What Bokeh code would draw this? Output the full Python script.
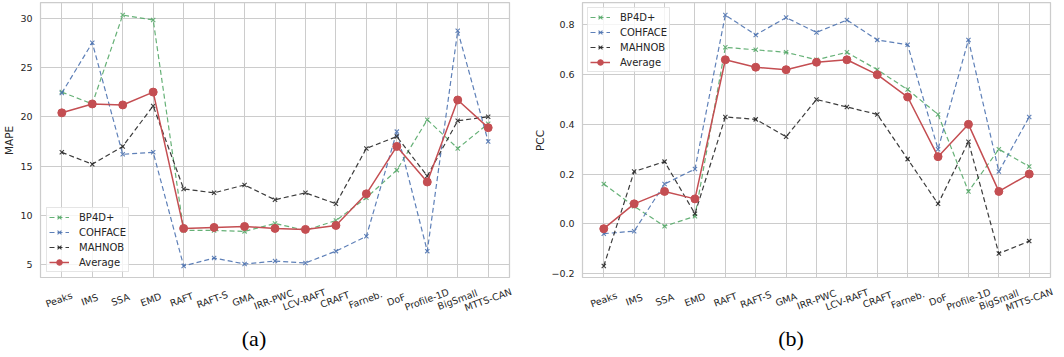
import math
from bokeh.plotting import figure
from bokeh.layouts import row, column
from bokeh.models import Range1d, FixedTicker, Grid
from bokeh.core.properties import value
from bokeh.embed import file_html
from bokeh.resources import INLINE

methods = ["Peaks", "IMS", "SSA", "EMD", "RAFT", "RAFT-S", "GMA", "IRR-PWC",
           "LCV-RAFT", "CRAFT", "Farneb.", "DoF", "Profile-1D", "BigSmall", "MTTS-CAN"]

mape_bp4d = [22.5, 21.3, 30.3, 29.8, 8.5, 8.5, 8.4, 9.2, 8.5, 9.5, 11.8, 14.6, 19.7, 16.8, 19.3]
mape_cohface = [22.4, 27.5, 16.2, 16.4, 4.9, 5.7, 5.1, 5.4, 5.2, 6.4, 7.9, 18.5, 6.4, 28.7, 17.5]
mape_mahnob = [16.4, 15.2, 17.0, 21.1, 12.7, 12.3, 13.1, 11.6, 12.3, 11.2, 16.8, 18.0, 14.0, 19.6, 20.0]
mape_avg = [20.4, 21.3, 21.2, 22.5, 8.7, 8.8, 8.9, 8.7, 8.6, 9.0, 12.2, 17.0, 13.4, 21.7, 18.9]

pcc_bp4d = [0.16, 0.07, -0.01, 0.03, 0.71, 0.70, 0.69, 0.66, 0.69, 0.62, 0.54, 0.44, 0.13, 0.30, 0.23]
pcc_cohface = [-0.04, -0.03, 0.16, 0.22, 0.84, 0.76, 0.83, 0.77, 0.82, 0.74, 0.72, 0.30, 0.74, 0.21, 0.43]
pcc_mahnob = [-0.17, 0.21, 0.25, 0.04, 0.43, 0.42, 0.35, 0.50, 0.47, 0.44, 0.26, 0.08, 0.33, -0.12, -0.07]
pcc_avg = [-0.02, 0.08, 0.13, 0.10, 0.66, 0.63, 0.62, 0.65, 0.66, 0.60, 0.51, 0.27, 0.40, 0.13, 0.20]

mape_ticks = [5, 10, 15, 20, 25, 30]
mape_tick_labels = ["5", "10", "15", "20", "25", "30"]
pcc_ticks = [-0.2, 0.0, 0.2, 0.4, 0.6, 0.8]
pcc_tick_labels = ["\u22120.2", "0.0", "0.2", "0.4", "0.6", "0.8"]

series_names = ["BP4D+", "COHFACE", "MAHNOB", "Average"]
GREEN, BLUE, BLACK, RED = "#55a868", "#4c72b0", "#262626", "#c44e52"
TXT = "#262626"
FONT = "DejaVu Sans"

CHART_H = 278
STRIP_H = 79


def make_panel(series, yticks, ylabels, ylabel, caption, width, border_left,
               border_right, legend_loc, legend_margin, cap_shift):
    xs = list(range(len(methods)))
    allv = [v for s in series for v in s]
    lo, hi = min(allv), max(allv)
    pad = (hi - lo) * 0.05
    x0, x1 = -0.7, len(methods) - 1 + 0.7

    p = figure(width=width, height=CHART_H, output_backend="svg", toolbar_location=None,
               x_range=Range1d(x0, x1), y_range=Range1d(lo - pad, hi + pad),
               x_axis_location=None,
               min_border_left=border_left, min_border_right=border_right,
               min_border_top=2, min_border_bottom=0)
    p.frame_align = False
    p.background_fill_color = "white"
    p.border_fill_color = "white"
    p.outline_line_color = "#cccccc"
    p.outline_line_width = 1.25

    colors = [GREEN, BLUE, BLACK]
    for s, name, c in zip(series[:3], series_names[:3], colors):
        p.line(xs, s, line_color=c, line_width=1.2, line_dash="5 3",
               line_alpha=0.9, legend_label=name)
        p.scatter(xs, s, marker="x", size=6, line_color=c, line_width=1.1,
                  line_alpha=0.9, legend_label=name)
    p.line(xs, series[3], line_color=RED, line_width=1.5, legend_label=series_names[3])
    p.scatter(xs, series[3], marker="circle", size=8, fill_color=RED,
              line_color=RED, legend_label=series_names[3])

    ax = p.yaxis[0]
    ax.axis_line_color = None
    ax.major_tick_line_color = None
    ax.minor_tick_line_color = None
    ax.major_tick_out = 0
    ax.major_tick_in = 0
    ax.minor_tick_out = 0
    ax.major_label_text_font = FONT
    ax.major_label_text_font_size = "9.5px"
    ax.major_label_text_color = TXT
    ax.ticker = FixedTicker(ticks=yticks)
    ax.major_label_overrides = dict(zip(yticks, ylabels))
    ax.major_label_standoff = 8
    ax.axis_label = ylabel
    ax.axis_label_text_font = FONT
    ax.axis_label_text_font_size = "10.5px"
    ax.axis_label_text_font_style = "normal"
    ax.axis_label_text_color = TXT
    ax.axis_label_standoff = 2

    for g in p.grid:
        g.visible = False
    p.add_layout(Grid(dimension=0, ticker=FixedTicker(ticks=xs),
                      grid_line_color="#cccccc", grid_line_width=1))
    p.add_layout(Grid(dimension=1, ticker=FixedTicker(ticks=yticks),
                      grid_line_color="#cccccc", grid_line_width=1))

    lg = p.legend[0]
    lg.location = legend_loc
    lg.margin = legend_margin
    lg.padding = 2
    lg.spacing = 1
    lg.glyph_height = 14
    lg.label_height = 14
    lg.glyph_width = 20
    lg.label_standoff = 10
    lg.label_text_font = FONT
    lg.label_text_font_size = "10px"
    lg.label_text_color = TXT
    lg.border_line_color = "#cccccc"
    lg.border_line_width = 1
    lg.background_fill_alpha = 0.8

    # strip below the chart: tick labels (same x scale as the chart) and caption
    k = (x1 - x0) / (width - border_left - border_right)
    sx0, sx1 = x0 - border_left * k, x1 + border_right * k
    s = figure(width=width, height=STRIP_H, output_backend="svg", toolbar_location=None,
               x_range=Range1d(sx0, sx1), y_range=Range1d(-STRIP_H, 0),
               x_axis_location=None, y_axis_location=None,
               min_border_left=0, min_border_right=0,
               min_border_top=0, min_border_bottom=0)
    s.frame_align = False
    s.outline_line_color = None
    s.background_fill_color = "white"
    s.border_fill_color = "white"
    for g in s.grid:
        g.visible = False
    s.text(x=xs, y=-21, text=methods, angle=20, angle_units="deg",
           text_align="center", text_baseline="middle",
           text_font=value(FONT), text_font_size=value("9.5px"), text_color=TXT)
    s.text(x=[(sx0 + sx1) / 2], y=[-60], text=[caption], x_offset=cap_shift,
           text_align="center", text_baseline="middle",
           text_font=value("Liberation Serif"), text_font_size=value("22px"),
           text_color="black")
    return column(p, s, spacing=0)


c1 = make_panel([mape_bp4d, mape_cohface, mape_mahnob, mape_avg], mape_ticks,
                mape_tick_labels, "MAPE", "(a)", 525, 37, 16, "bottom_left", 6, -9)
c2 = make_panel([pcc_bp4d, pcc_cohface, pcc_mahnob, pcc_avg], pcc_ticks,
                pcc_tick_labels, "PCC", "(b)", 539, 57, 14, "top_left", 5, -4)

layout = row(c1, c2, spacing=0)
open("out.html", "w").write(file_html(layout, INLINE))
